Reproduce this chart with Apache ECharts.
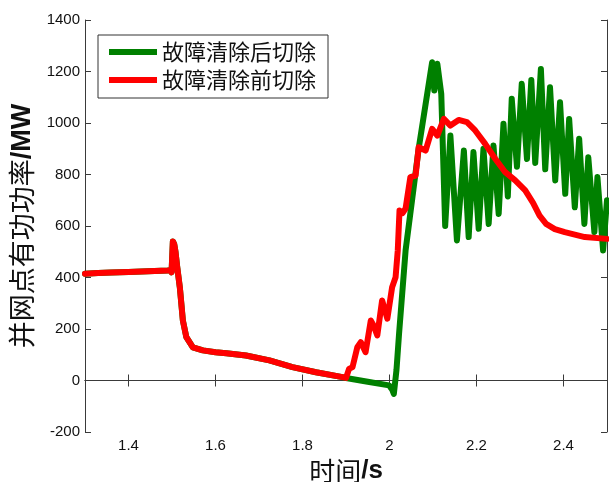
<!DOCTYPE html>
<html>
<head>
<meta charset="utf-8">
<title>并网点有功功率</title>
<script src="https://cdn.jsdelivr.net/npm/echarts@6/dist/echarts.min.js"></script>
<style>
	html, body { margin: 0; padding: 0; background: #fff; }
	#main { width: 609px; height: 482px; }
</style>
</head>
<body>
<div id="main"></div>
<script>
	// 公共段（两条曲线在1.9s之前重合）
	var baseT = [1.300, 1.330, 1.360, 1.400, 1.430, 1.460, 1.490, 1.497, 1.499, 1.502, 1.505, 1.508, 1.512, 1.518, 1.525, 1.533, 1.548, 1.571, 1.600, 1.625, 1.670, 1.724, 1.777, 1.831, 1.892, 1.900];
	var baseP = [415, 417, 419, 421, 423, 425, 427, 428, 420, 540, 530, 500, 440, 362, 233, 168, 129, 117, 110, 106, 97, 78, 52, 32, 13, 10];

	// 故障清除后切除
	var greenT = [1.950, 1.999, 2.006, 2.010, 2.016, 2.022, 2.037, 2.067, 2.098, 2.103, 2.110, 2.119, 2.128,
		2.140, 2.155, 2.171, 2.182, 2.193, 2.205, 2.216, 2.228, 2.239, 2.251, 2.262, 2.272, 2.281, 2.293,
		2.304, 2.316, 2.326, 2.335, 2.348, 2.358, 2.369, 2.381, 2.392, 2.404, 2.413, 2.426, 2.436, 2.448,
		2.457, 2.471, 2.478, 2.491, 2.500];
	var greenP = [-5, -19, -35, -52, 40, 182, 505, 900, 1236, 1126, 1230, 1113, 600,
		951, 544, 893, 557, 887, 589, 900, 608, 913, 647, 997, 715, 1094, 830,
		1152, 860, 1167, 845, 1210, 820, 1139, 777, 1081, 725, 1016, 673, 939, 608,
		867, 576, 790, 505, 700];

	// 故障清除前切除
	var redT = [1.907, 1.915, 1.926, 1.934, 1.945, 1.957, 1.963, 1.972, 1.983, 1.995, 2.006, 2.014, 2.019,
		2.023, 2.030, 2.037, 2.048, 2.060, 2.067, 2.083, 2.098, 2.110, 2.125, 2.140, 2.159, 2.178, 2.197,
		2.220, 2.243, 2.266, 2.289, 2.312, 2.330, 2.345, 2.360, 2.380, 2.403, 2.449, 2.500];
	var redP = [45, 52, 129, 149, 110, 233, 215, 175, 311, 240, 362, 401, 505,
		660, 650, 668, 790, 796, 906, 893, 977, 951, 1016, 990, 1012, 1003, 971,
		919, 861, 809, 777, 738, 690, 640, 608, 588, 576, 557, 550];

	var xTicks = [1.4, 1.6, 1.8, 2.0, 2.2, 2.4];
	var names = ['故障清除后切除', '故障清除前切除'];

	function toPairs(t1, v1, t2, v2) {
		var arr = [];
		for (var i = 0; i < t1.length; i++) arr.push([t1[i], v1[i]]);
		for (var j = 0; j < t2.length; j++) arr.push([t2[j], v2[j]]);
		return arr;
	}

	var axisColor = '#3a3a3a';
	var labelStyle = { color: '#111', fontSize: 15, fontFamily: 'Liberation Sans' };

	var chart = echarts.init(document.getElementById('main'), null, { renderer: 'canvas' });
	chart.setOption({
		animation: false,
		backgroundColor: '#fff',
		grid: { left: 85, right: 2, top: 20, bottom: 50, containLabel: false, outerBoundsMode: 'none' },
		legend: {
			data: names,
			orient: 'vertical',
			left: 98,
			top: 35,
			padding: [6, 12, 7, 11],
			itemGap: 6,
			itemWidth: 48,
			itemHeight: 6,
			icon: 'rect',
			borderColor: '#333',
			borderWidth: 1,
			backgroundColor: '#fff',
			textStyle: { fontSize: 22, fontFamily: 'Noto Sans CJK SC', color: '#111' }
		},
		xAxis: [{
			type: 'value',
			min: 1.3,
			max: 2.5,
			position: 'bottom',
			name: '{a|时间}{b|/s}',
			nameLocation: 'middle',
			nameGap: 23,
			nameTextStyle: {
				rich: {
					a: { fontSize: 26, fontFamily: 'Noto Sans CJK SC', color: '#111' },
					b: { fontSize: 26, fontWeight: 'bold', fontFamily: 'Liberation Sans', color: '#111' }
				}
			},
			axisLine: { show: true, lineStyle: { color: axisColor, width: 1 } },
			axisTick: { inside: true, length: 6, customValues: xTicks, lineStyle: { color: axisColor } },
			axisLabel: Object.assign({ margin: 6, customValues: xTicks }, labelStyle),
			splitLine: { show: false }
		}, {
			type: 'value',
			min: 1.3,
			max: 2.5,
			position: 'top',
			axisLine: { show: true, lineStyle: { color: axisColor, width: 1 } },
			axisTick: { inside: true, length: 6, customValues: xTicks, lineStyle: { color: axisColor } },
			axisLabel: { show: false },
			splitLine: { show: false }
		}],
		yAxis: [{
			type: 'value',
			min: -200,
			max: 1400,
			interval: 200,
			position: 'left',
			name: '{a|并网点有功功率}{b|/MW}',
			nameLocation: 'middle',
			nameGap: 46,
			nameTextStyle: {
				rich: {
					a: { fontSize: 27, fontFamily: 'Noto Sans CJK SC', color: '#111' },
					b: { fontSize: 27, fontWeight: 'bold', fontFamily: 'Liberation Sans', color: '#111' }
				}
			},
			axisLine: { show: true, lineStyle: { color: axisColor, width: 1 } },
			axisTick: { inside: true, length: 6, lineStyle: { color: axisColor } },
			axisLabel: Object.assign({ margin: 5, formatter: function (v) { return String(v); } }, labelStyle),
			splitLine: { show: false }
		}, {
			type: 'value',
			min: -200,
			max: 1400,
			interval: 200,
			position: 'right',
			axisLine: { show: true, lineStyle: { color: axisColor, width: 1 } },
			axisTick: { inside: true, length: 6, lineStyle: { color: axisColor } },
			axisLabel: { show: false },
			splitLine: { show: false }
		}],
		series: [{
			name: names[0],
			type: 'line',
			showSymbol: false,
			symbol: 'none',
			color: '#008000',
			lineStyle: { width: 6, color: '#008000', cap: 'round', join: 'round' },
			data: toPairs(baseT, baseP, greenT, greenP)
		}, {
			name: names[1],
			type: 'line',
			showSymbol: false,
			symbol: 'none',
			color: '#ff0000',
			lineStyle: { width: 6, color: '#ff0000', cap: 'round', join: 'round' },
			data: toPairs(baseT, baseP, redT, redP)
		}]
	});
</script>
</body>
</html>
